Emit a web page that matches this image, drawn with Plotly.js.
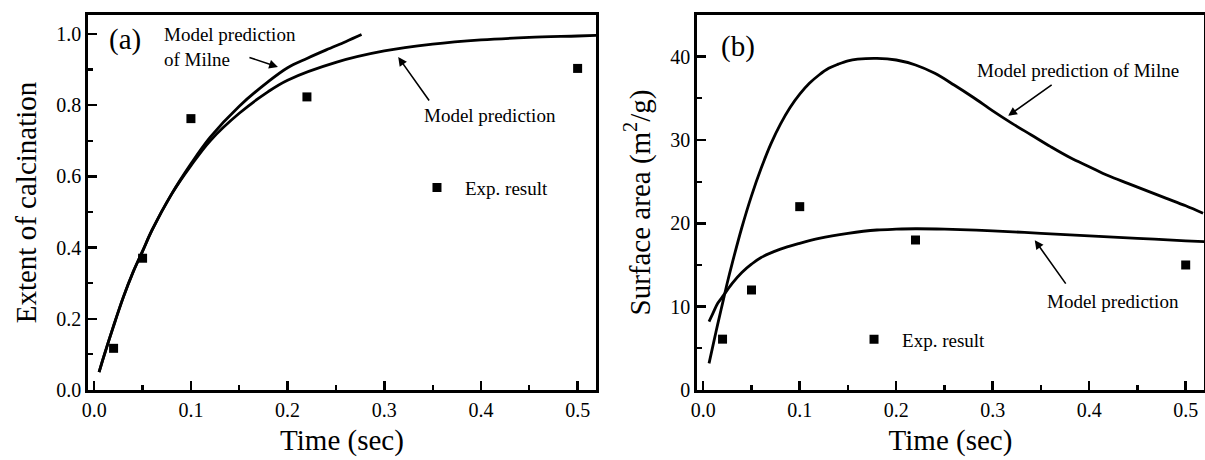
<!DOCTYPE html>
<html>
<head>
<meta charset="utf-8">
<script src="https://cdn.plot.ly/plotly-3.0.1.min.js"></script>
<style>
html,body{margin:0;padding:0;background:#fff;}
#chart{width:1205px;height:460px;}
#chart svg text{font-family:"Liberation Serif","Times New Roman",Times,serif !important;}
</style>
</head>
<body>
<div id="chart"></div>
<script>
// ---- Panel (a): extent of calcination ----
const expTimeA = [0.02, 0.05, 0.1, 0.22, 0.5];
const expCalcA = [0.117, 0.37, 0.762, 0.823, 0.903];

const modelTimeA = [0.005, 0.01, 0.02, 0.03, 0.04, 0.05, 0.06, 0.08, 0.1, 0.12, 0.15, 0.18, 0.2, 0.25, 0.3, 0.35, 0.4, 0.45, 0.5, 0.52];
const modelCalcA = [0.05, 0.095, 0.18, 0.26, 0.33, 0.39, 0.45, 0.55, 0.63, 0.70, 0.777, 0.838, 0.87, 0.92, 0.952, 0.971, 0.983, 0.99, 0.994, 0.996];

const milneTimeA = [0.005, 0.01, 0.02, 0.03, 0.04, 0.05, 0.06, 0.08, 0.1, 0.12, 0.15, 0.18, 0.2, 0.22, 0.24, 0.26, 0.2765];
const milneCalcA = [0.05, 0.095, 0.18, 0.26, 0.33, 0.39, 0.45, 0.55, 0.635, 0.71, 0.797, 0.866, 0.905, 0.931, 0.955, 0.978, 0.998];

// ---- Panel (b): surface area ----
const expTimeB = [0.02, 0.05, 0.1, 0.22, 0.5];
const expAreaB = [6.1, 12.0, 22.0, 18.0, 15.0];

const modelTimeB = [0.006, 0.01, 0.015, 0.02, 0.025, 0.03, 0.04, 0.05, 0.06, 0.08, 0.1, 0.12, 0.15, 0.18, 0.2, 0.22, 0.25, 0.3, 0.35, 0.4, 0.45, 0.5, 0.52];
const modelAreaB = [8.2, 9.2, 10.4, 11.2, 12.0, 12.8, 14.1, 15.1, 15.9, 16.9, 17.6, 18.2, 18.8, 19.2, 19.3, 19.35, 19.3, 19.1, 18.8, 18.5, 18.2, 17.9, 17.8];

const milneTimeB = [0.006, 0.01, 0.015, 0.02, 0.025, 0.03, 0.04, 0.05, 0.06, 0.07, 0.08, 0.09, 0.1, 0.11, 0.12, 0.13, 0.14, 0.15, 0.16, 0.18, 0.2, 0.22, 0.24, 0.26, 0.28, 0.3, 0.32, 0.34, 0.36, 0.38, 0.4, 0.42, 0.44, 0.46, 0.48, 0.5, 0.518];
const milneAreaB = [3.2, 5.3, 7.9, 10.4, 12.9, 15.2, 19.5, 23.3, 26.6, 29.5, 31.9, 33.9, 35.5, 36.8, 37.8, 38.6, 39.1, 39.5, 39.7, 39.8, 39.6, 39.0, 38.0, 36.6, 35.1, 33.5, 32.0, 30.6, 29.2, 27.9, 26.8, 25.7, 24.8, 23.9, 23.0, 22.1, 21.2];

// ---- Tick labels ----
const timeTicks = [0, 0.1, 0.2, 0.3, 0.4, 0.5];
const timeTickText = ["0.0", "0.1", "0.2", "0.3", "0.4", "0.5"];
const calcTicks = [0, 0.2, 0.4, 0.6, 0.8, 1.0];
const calcTickText = ["0.0", "0.2", "0.4", "0.6", "0.8", "1.0"];
const areaTicks = [0, 10, 20, 30, 40];
const areaTickText = ["0", "10", "20", "30", "40"];

const FONT = "Liberation Serif";
const lineStyle = {color: "#000", width: 2.8, shape: "spline", smoothing: 1};
const markerStyle = {symbol: "square", size: 9, color: "#000"};

const traces = [
  {x: modelTimeA, y: modelCalcA, mode: "lines", line: lineStyle, xaxis: "x", yaxis: "y", showlegend: false, name: "Model prediction"},
  {x: milneTimeA, y: milneCalcA, mode: "lines", line: lineStyle, xaxis: "x", yaxis: "y", showlegend: false, name: "Model prediction of Milne"},
  {x: expTimeA, y: expCalcA, mode: "markers", marker: markerStyle, xaxis: "x", yaxis: "y", name: "Exp. result", legend: "legend"},
  {x: modelTimeB, y: modelAreaB, mode: "lines", line: lineStyle, xaxis: "x2", yaxis: "y2", showlegend: false, name: "Model prediction"},
  {x: milneTimeB, y: milneAreaB, mode: "lines", line: lineStyle, xaxis: "x2", yaxis: "y2", showlegend: false, name: "Model prediction of Milne"},
  {x: expTimeB, y: expAreaB, mode: "markers", marker: markerStyle, xaxis: "x2", yaxis: "y2", name: "Exp. result", legend: "legend2"}
];

function xAxis(domain) {
  return {
    domain: domain, range: [-0.0065, 0.519],
    tickvals: timeTicks, ticktext: timeTickText,
    ticks: "inside", ticklen: 9, tickwidth: 2.5, tickcolor: "#000",
    minor: {dtick: 0.05, tick0: 0, ticks: "inside", ticklen: 5, tickwidth: 2.2, tickcolor: "#000"},
    showline: true, linewidth: 2.6, linecolor: "#000", mirror: true,
    showgrid: false, zeroline: false,
    tickfont: {family: FONT, size: 20, color: "#000"},
    title: {text: "Time (sec)", font: {family: FONT, size: 29, color: "#000"}, standoff: 10},
    automargin: false
  };
}
function yAxis(domain, range, tv, tt, minorD, title, anchor) {
  return {
    domain: domain, range: range, anchor: anchor,
    tickvals: tv, ticktext: tt,
    ticks: "inside", ticklen: 9, tickwidth: 2.5, tickcolor: "#000",
    minor: {dtick: minorD, tick0: 0, ticks: "inside", ticklen: 5, tickwidth: 2.2, tickcolor: "#000"},
    showline: true, linewidth: 2.6, linecolor: "#000", mirror: true,
    showgrid: false, zeroline: false,
    tickfont: {family: FONT, size: 20, color: "#000"},
    title: {text: title, font: {family: FONT, size: 29, color: "#000"}, standoff: 12},
    automargin: false
  };
}

const annFont = {family: FONT, size: 19, color: "#000"};
const bigFont = {family: FONT, size: 29, color: "#000"};
function txt(xref, yref, x, y, text, font, xanchor) {
  return {xref: xref, yref: yref, x: x, y: y, text: text, font: font, showarrow: false, xanchor: xanchor || "left", yanchor: "middle", align: "left"};
}
function arrow(xref, yref, x, y, ax, ay) {
  return {xref: xref, yref: yref, x: x, y: y, ax: ax, ay: ay, text: "", showarrow: true, arrowhead: 2, arrowsize: 1.1, arrowwidth: 1.6, arrowcolor: "#000", standoff: 0};
}

const layout = {
  width: 1205, height: 460,
  margin: {l: 0, r: 0, t: 0, b: 0},
  paper_bgcolor: "#fff", plot_bgcolor: "#fff",
  font: {family: FONT, color: "#000"},
  xaxis: xAxis([0.0730, 0.4946]),
  yaxis: yAxis([0.1522, 0.9674], [0, 1.053], calcTicks, calcTickText, 0.1, "Extent of calcination", "x"),
  xaxis2: Object.assign(xAxis([0.5784, 0.9992]), {anchor: "y2"}),
  yaxis2: yAxis([0.1522, 0.9674], [0, 45], areaTicks, areaTickText, 5, "Surface area (m<sup>2</sup>/g)", "x2"),
  legend: {x: 0.3394, y: 0.592, xanchor: "left", yanchor: "middle", itemwidth: 46, bgcolor: "rgba(0,0,0,0)", borderwidth: 0, font: annFont},
  legend2: {x: 0.7021, y: 0.2624, xanchor: "left", yanchor: "middle", itemwidth: 46, bgcolor: "rgba(0,0,0,0)", borderwidth: 0, font: annFont},
  annotations: [
    txt("x", "y", 0.0319, 0.983, "(a)", bigFont, "center"),
    txt("x", "y", 0.070, 0.963, "Model prediction<br>of Milne", annFont),
    arrow("x", "y", 0.19, 0.907, -30, -10),
    txt("x", "y", 0.3386, 0.772, "Model prediction", annFont),
    arrow("x", "y", 0.3144, 0.935, 32, 45),
    txt("x2", "y2", 0.0364, 41.2, "(b)", bigFont, "center"),
    txt("x2", "y2", 0.2818, 38.3, "Model prediction of Milne", annFont),
    arrow("x2", "y2", 0.316, 32.9, 45, -32),
    txt("x2", "y2", 0.3546, 10.6, "Model prediction", annFont),
    arrow("x2", "y2", 0.3436, 17.98, 32, 45)
  ]
};

Plotly.newPlot("chart", traces, layout, {displayModeBar: false, staticPlot: true});
</script>
</body>
</html>
